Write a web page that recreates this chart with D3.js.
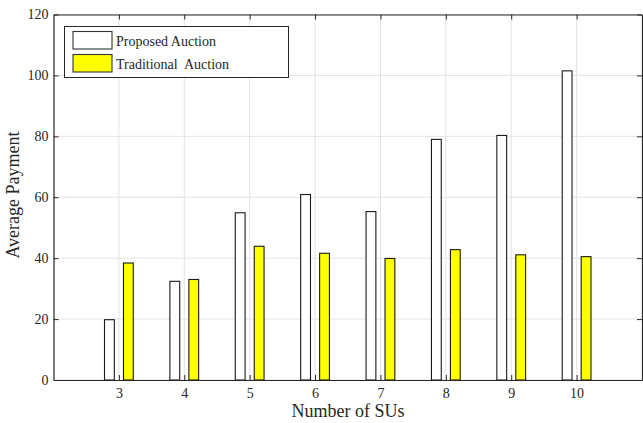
<!DOCTYPE html>
<html lang="en">
<head>
    <meta charset="UTF-8">
    <title>Average Payment</title>
    <script src="https://cdn.jsdelivr.net/npm/d3@7"></script>
    <style>
        * { margin: 0; }
        body { background: #fff; }
        svg text { font-family: "Times New Roman", "Liberation Serif", "DejaVu Serif", serif !important; fill: #262626; }
    </style>
</head>
<body>
    <svg id="chart" width="643" height="423"></svg>
    <script>
        // data
        const users = [3, 4, 5, 6, 7, 8, 9, 10];
        const proposed = [19.8, 32.4, 54.9, 60.9, 55.3, 79.0, 80.3, 101.5];
        const traditional = [38.4, 33.0, 43.9, 41.6, 39.9, 42.8, 41.1, 40.5];
        const yTicks = [0, 20, 40, 60, 80, 100, 120];
        const seriesNames = ['Proposed Auction', 'Traditional  Auction'];
        const seriesColors = ['#ffffff', '#ffff00'];

        const svg = d3.select('#chart');
        const mLeft = 53.5, mRight = 642, mTop = 14.5, mBottom = 380;

        const x = d3.scaleLinear().domain([2, 11]).range([mLeft, mRight]);
        const y = d3.scaleLinear().domain([0, 120]).range([mBottom, mTop]);

        // grid
        const grid = svg.append('g').attr('stroke', '#e3e3e3').attr('stroke-width', 1);
        grid.selectAll('line.gx').data(users).enter().append('line')
            .attr('x1', d => x(d)).attr('x2', d => x(d))
            .attr('y1', mTop).attr('y2', mBottom);
        grid.selectAll('line.gy').data(yTicks).enter().append('line')
            .attr('x1', mLeft).attr('x2', mRight)
            .attr('y1', d => y(d)).attr('y2', d => y(d));

        // bars
        const bw = 0.15, off = 0.145;
        const series = [proposed, traditional];
        series.forEach((vals, s) => {
            svg.append('g').selectAll('rect').data(vals).enter().append('rect')
                .attr('x', (d, i) => x(users[i] + (s === 0 ? -off : off) - bw / 2))
                .attr('width', x(bw) - x(0))
                .attr('y', d => y(d))
                .attr('height', d => y(0) - y(d))
                .attr('fill', seriesColors[s])
                .attr('stroke', '#1a1a1a')
                .attr('stroke-width', 1.1);
        });

        // axes: MATLAB style box with inward ticks
        const xAxis = svg.append('g').attr('transform', `translate(0,${mBottom})`)
            .call(d3.axisBottom(x).tickValues(users).tickSizeInner(-5).tickSizeOuter(0).tickPadding(8));
        const xTop = svg.append('g').attr('transform', `translate(0,${mTop})`)
            .call(d3.axisTop(x).tickValues(users).tickSizeInner(-5).tickSizeOuter(0).tickFormat(''));
        const yAxis = svg.append('g').attr('transform', `translate(${mLeft},0)`)
            .call(d3.axisLeft(y).tickValues(yTicks).tickSizeInner(-5).tickSizeOuter(0).tickPadding(5));
        const yRight = svg.append('g').attr('transform', `translate(${mRight},0)`)
            .call(d3.axisRight(y).tickValues(yTicks).tickSizeInner(-5).tickSizeOuter(0).tickFormat(''));

        [xAxis, xTop, yAxis, yRight].forEach(g => {
            g.attr('font-family', null);
            g.selectAll('path').attr('stroke', '#262626').attr('stroke-width', 1.2);
            g.selectAll('line').attr('stroke', '#262626');
            g.selectAll('text').style('font-size', '14px').attr('fill', '#262626');
        });

        // axis labels
        svg.append('text').attr('x', 348).attr('y', 417)
            .attr('text-anchor', 'middle').style('font-size', '18px').text('Number of SUs');
        svg.append('text').attr('transform', 'translate(19,195) rotate(-90)')
            .attr('text-anchor', 'middle').style('font-size', '18px').text('Average Payment');

        // legend
        const lg = svg.append('g');
        lg.append('rect').attr('x', 64.5).attr('y', 26.5).attr('width', 224).attr('height', 51)
            .attr('fill', '#fff').attr('stroke', '#262626').attr('stroke-width', 1);
        seriesNames.forEach((name, i) => {
            lg.append('rect').attr('x', 73).attr('y', 31.5 + i * 23).attr('width', 39).attr('height', 17.5)
                .attr('fill', seriesColors[i]).attr('stroke', '#333').attr('stroke-width', 1.1);
            lg.append('text').attr('x', 116).attr('y', 45.5 + i * 23)
                .style('font-size', '14px').style('white-space', 'pre').text(name);
        });
    </script>
</body>
</html>
